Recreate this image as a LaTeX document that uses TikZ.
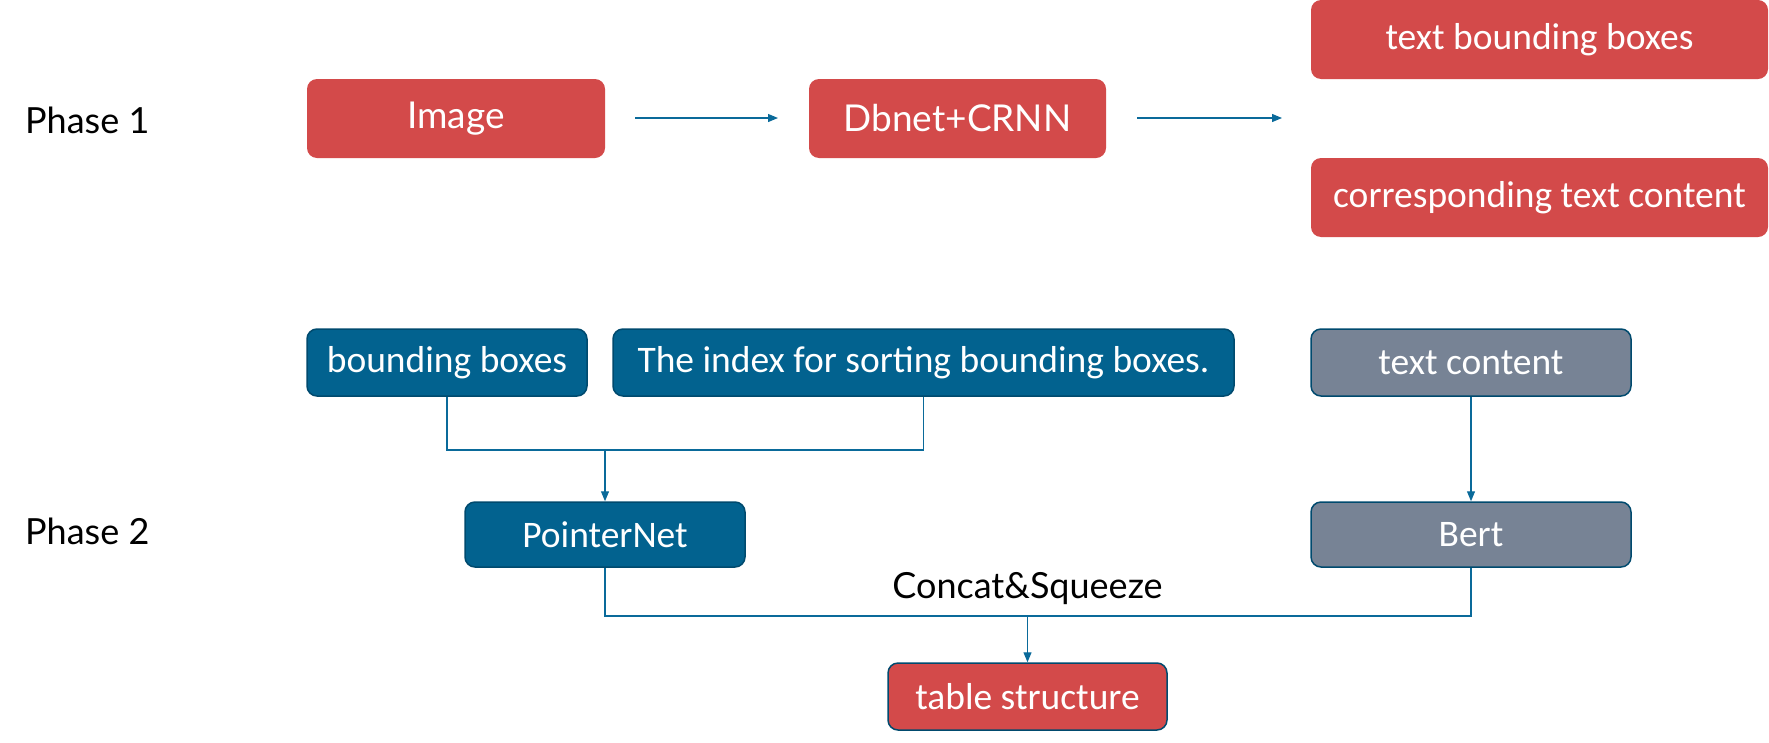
\documentclass[tikz,border=0pt]{standalone}
\usepackage{fontspec}
\setmainfont{Carlito}
\newfontfamily\thinfont{Lato}
\usetikzlibrary{arrows.meta}
\definecolor{cred}{HTML}{D34A4A}
\definecolor{cblue}{HTML}{02628F}
\definecolor{cborder}{HTML}{004A6E}
\definecolor{cgray}{HTML}{778395}
\definecolor{cline}{HTML}{0A6A9A}
\begin{document}
\begin{tikzpicture}[x=1pt,y=-1pt,
  box/.style={rounded corners=10pt, text=white, inner sep=0pt, font=\fontsize{37.5}{40}\selectfont},
  redbox/.style={box, fill=cred},
  redthin/.style={redbox, font=\thinfont\fontsize{37}{40}\selectfont},
  bluebox/.style={box, fill=cblue, draw=cborder, line width=1.5pt},
  graybox/.style={box, fill=cgray, draw=cborder, line width=1.5pt},
  conn/.style={draw=cline, line width=1.2pt},
  arr/.style={conn, -{Triangle[length=10pt,width=8pt]}},
  lbl/.style={font=\thinfont\fontsize{36}{40}\selectfont, text=black, inner sep=0pt}]
\useasboundingbox (0,0) rectangle (1769,742);
% Phase 1
\node[lbl, anchor=west] (p1) at (25,120) {Phase 1};
\node[redthin, minimum width=298pt, minimum height=79pt] (img) at (456,118.5) {Image};
\node[redthin, minimum width=297pt, minimum height=79pt] (dbn) at (957.5,118.5) {Dbnet+CRNN};
\node[redbox, minimum width=457pt, minimum height=79pt] (tbb) at (1539.5,39.5) {text bounding boxes};
\node[redbox, minimum width=457pt, minimum height=79pt] (ctc) at (1539.5,197.5) {corresponding text content};
\coordinate (a1s) at (635,118);
\coordinate (a1e) at (778,118);
\coordinate (a2s) at (1137,118);
\coordinate (a2e) at (1282,118);
\draw[arr] (a1s) -- (a1e);
\draw[arr] (a2s) -- (a2e);
% Phase 2
\node[lbl, anchor=west] (p2) at (25,531) {Phase 2};
\node[bluebox, minimum width=280pt, minimum height=67pt] (bb) at (447,362.5) {bounding boxes};
\node[bluebox, minimum width=621pt, minimum height=67pt] (idx) at (923.5,362.5) {The index for sorting bounding boxes.};
\node[graybox, minimum width=320pt, minimum height=67pt] (tc) at (1471,362.5) {text content};
\node[bluebox, minimum width=280pt, minimum height=65pt] (pn) at (605,534.5) {PointerNet};
\node[graybox, minimum width=320pt, minimum height=65pt] (bert) at (1471,534.5) {Bert};
\node[redbox, draw=cborder, line width=1.5pt, minimum width=279pt, minimum height=67pt] (ts) at (1027.5,696.5) {table structure};
\coordinate (j1) at (605,450);
\coordinate (j2) at (1027.5,616);
\draw[conn] (bb.south) |- (j1);
\draw[conn] (idx.south) |- (j1);
\draw[arr] (j1) -- (pn.north);
\draw[arr] (tc.south) -- (bert.north);
\draw[conn] (pn.south) |- (j2);
\draw[conn] (bert.south) |- (j2);
\draw[arr] (j2) -- (ts.north);
\node[lbl] (cs) at (1027.5,589) {Concat\&Squeeze};
\end{tikzpicture}
\end{document}
